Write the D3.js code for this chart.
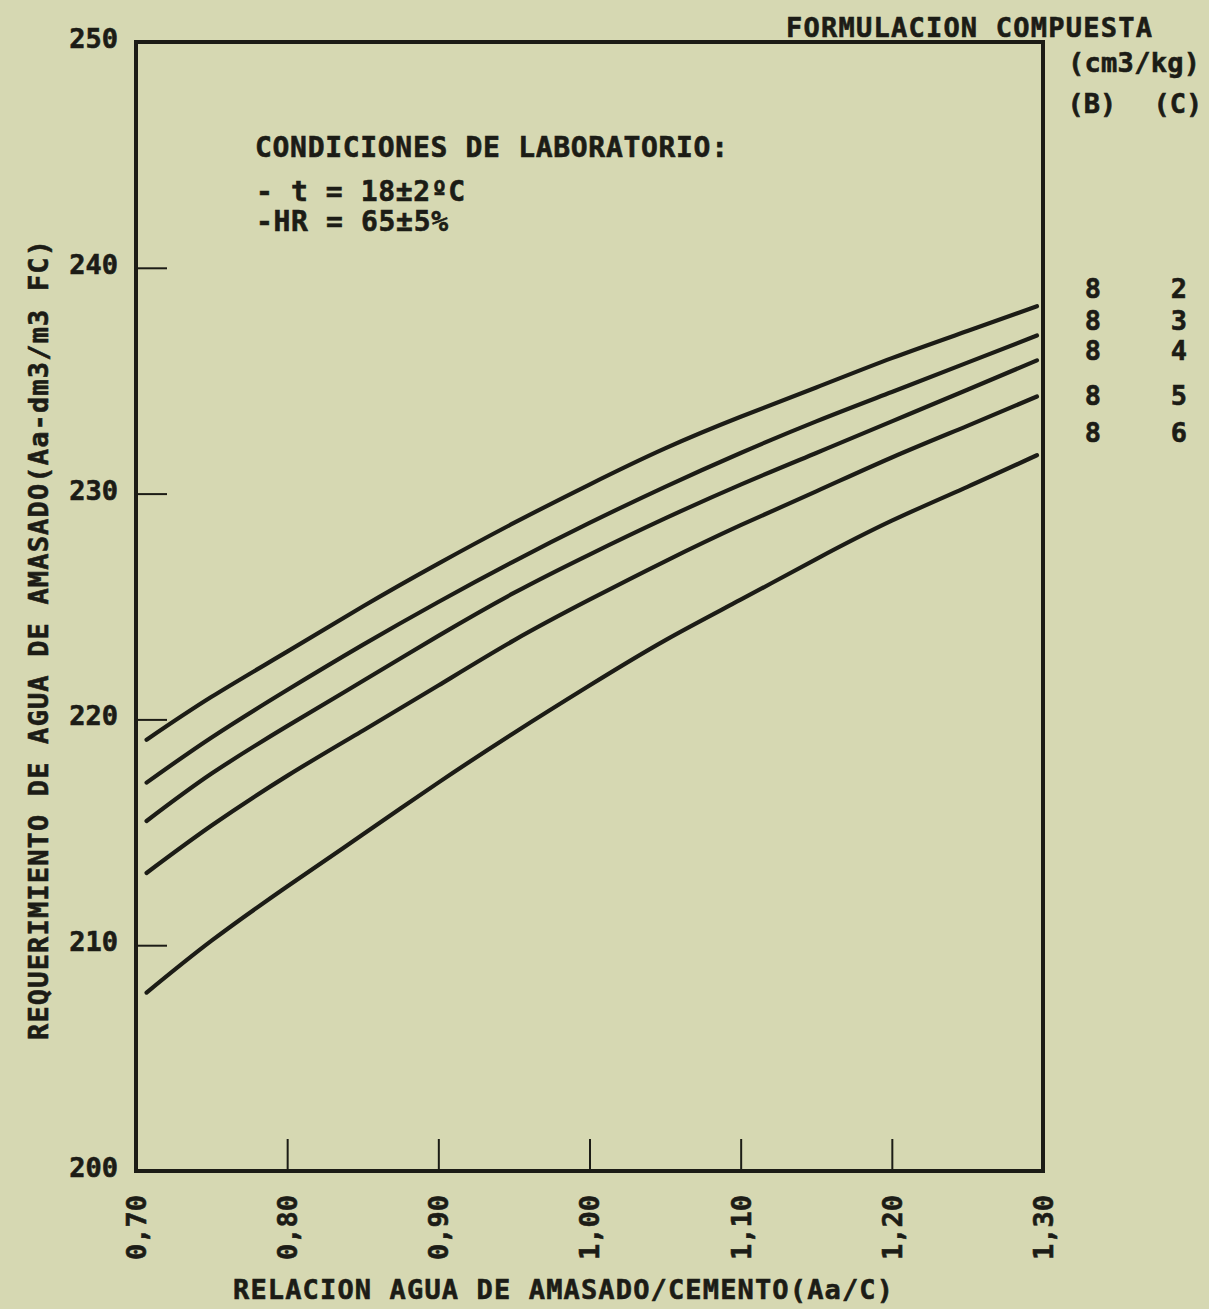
<!DOCTYPE html>
<html>
  <head>
    <meta charset="UTF-8">
    <title>Requerimiento de agua de amasado</title>
  <style type="text/css">
    body { margin: 0; background: #d6d8b2; }
    svg text {
      font-family: 'DejaVu Sans Mono', monospace;
      font-weight: bold;
      fill: #1c1c16;
      stroke: #1c1c16;
      stroke-width: 0.6px;
    }
  </style>
  </head>
  <body>
    <script src="https://cdn.jsdelivr.net/npm/d3@7"></script>
    <script>

      // Data
      var relacion = [0.707, 0.75, 0.80, 0.85, 0.90, 0.95, 1.00, 1.05, 1.10, 1.15, 1.20, 1.25, 1.296];

      var serie_8_2 = [219.1, 221.0, 223.0, 225.0, 226.9, 228.7, 230.4, 232.0, 233.4, 234.7, 236.0, 237.2, 238.3];
      var serie_8_3 = [217.2, 219.2, 221.3, 223.3, 225.2, 227.0, 228.7, 230.3, 231.8, 233.2, 234.5, 235.8, 237.0];
      var serie_8_4 = [215.5, 217.6, 219.7, 221.7, 223.7, 225.6, 227.3, 228.9, 230.4, 231.8, 233.2, 234.6, 235.9];
      var serie_8_5 = [213.2, 215.3, 217.5, 219.5, 221.5, 223.5, 225.3, 227.0, 228.6, 230.1, 231.6, 233.0, 234.3];
      var serie_8_6 = [207.9, 210.2, 212.6, 214.9, 217.2, 219.4, 221.5, 223.5, 225.3, 227.1, 228.8, 230.3, 231.7];

      var formulaB = ["8", "8", "8", "8", "8"];
      var formulaC = ["2", "3", "4", "5", "6"];

      var xTicks = [0.70, 0.80, 0.90, 1.00, 1.10, 1.20, 1.30];
      var yTicks = [200, 210, 220, 230, 240, 250];

      var series = [serie_8_2, serie_8_3, serie_8_4, serie_8_5, serie_8_6];

      // Layout
      var svgWidth = 1209,
          svgHeight = 1309;
      var ink = "#1c1c16";

      var svg = d3.select("body")
                  .append("svg")
                  .attr("width", svgWidth)
                  .attr("height", svgHeight);

      var xScale = d3.scaleLinear()
                     .domain([0.70, 1.30])
                     .range([136, 1043]);

      var yScale = d3.scaleLinear()
                     .domain([200, 250])
                     .range([1171, 42]);

      var comma = d => d3.format(".2f")(d).replace(".", ",");

      // Axes
      var yAxis = d3.axisLeft(yScale)
                    .tickValues(yTicks)
                    .tickSizeInner(-31)
                    .tickSizeOuter(0)
                    .tickPadding(18)
                    .tickFormat(d3.format("d"));

      var xAxis = d3.axisBottom(xScale)
                    .tickValues(xTicks)
                    .tickSizeInner(-32)
                    .tickSizeOuter(0)
                    .tickFormat(comma);

      var gY = svg.append("g")
                  .attr("transform", "translate(" + xScale(0.70) + ",0)")
                  .call(yAxis);
      gY.select(".domain").remove();
      gY.selectAll(".tick line").attr("stroke", ink).attr("stroke-width", 2);
      gY.selectAll(".tick text")
        .attr("font-size", 27)
        .attr("dy", "0.2em")
        .style("font-family", "'DejaVu Sans Mono', monospace");

      var gX = svg.append("g")
                  .attr("transform", "translate(0," + yScale(200) + ")")
                  .call(xAxis);
      gX.select(".domain").remove();
      gX.selectAll(".tick line").attr("stroke", ink).attr("stroke-width", 2);
      gX.selectAll(".tick text")
        .attr("font-size", 27)
        .attr("x", -24)
        .attr("y", 0)
        .attr("dy", "0.35em")
        .attr("transform", "rotate(-90)")
        .attr("text-anchor", "end")
        .style("font-family", "'DejaVu Sans Mono', monospace");

      // Frame
      svg.append("rect")
         .attr("x", xScale(0.70))
         .attr("y", yScale(250))
         .attr("width", xScale(1.30) - xScale(0.70))
         .attr("height", yScale(200) - yScale(250))
         .attr("fill", "none")
         .attr("stroke", ink)
         .attr("stroke-width", 4);

      // Curves
      var line = d3.line()
                   .x((d, i) => xScale(relacion[i]))
                   .y(d => yScale(d))
                   .curve(d3.curveNatural);

      svg.selectAll("path.curve")
         .data(series)
         .enter()
         .append("path")
         .attr("class", "curve")
         .attr("d", line)
         .attr("fill", "none")
         .attr("stroke", ink)
         .attr("stroke-width", 4.2)
         .attr("stroke-linecap", "round");

      // Legend
      var legendY = [298, 330, 360, 405, 442];

      svg.append("text")
         .attr("x", 786).attr("y", 37)
         .attr("font-size", 27)
         .attr("textLength", 366)
         .text("FORMULACION COMPUESTA");

      svg.append("text")
         .attr("x", 1068).attr("y", 72)
         .attr("font-size", 27)
         .attr("textLength", 132)
         .text("(cm3/kg)");

      svg.append("text")
         .attr("x", 1092).attr("y", 113)
         .attr("font-size", 27)
         .attr("text-anchor", "middle")
         .text("(B)");

      svg.append("text")
         .attr("x", 1178).attr("y", 113)
         .attr("font-size", 27)
         .attr("text-anchor", "middle")
         .text("(C)");

      svg.selectAll("text.legB")
         .data(formulaB)
         .enter()
         .append("text")
         .attr("class", "legB")
         .attr("x", 1093)
         .attr("y", (d, i) => legendY[i])
         .attr("font-size", 27)
         .attr("text-anchor", "middle")
         .text(d => d);

      svg.selectAll("text.legC")
         .data(formulaC)
         .enter()
         .append("text")
         .attr("class", "legC")
         .attr("x", 1179)
         .attr("y", (d, i) => legendY[i])
         .attr("font-size", 27)
         .attr("text-anchor", "middle")
         .text(d => d);

      // Laboratory conditions
      svg.append("text")
         .attr("x", 255).attr("y", 157)
         .attr("font-size", 28)
         .attr("textLength", 473)
         .text("CONDICIONES DE LABORATORIO:");

      svg.append("text")
         .attr("x", 256).attr("y", 201)
         .attr("font-size", 28)
         .attr("textLength", 209)
         .text("- t = 18±2ºC");

      svg.append("text")
         .attr("x", 256).attr("y", 231)
         .attr("font-size", 28)
         .attr("textLength", 192)
         .text("-HR = 65±5%");

      // Axis titles
      svg.append("text")
         .attr("x", 563).attr("y", 1299)
         .attr("font-size", 27)
         .attr("text-anchor", "middle")
         .attr("textLength", 660)
         .text("RELACION AGUA DE AMASADO/CEMENTO(Aa/C)");

      svg.append("text")
         .attr("transform", "translate(48,640) rotate(-90)")
         .attr("font-size", 27)
         .attr("text-anchor", "middle")
         .attr("textLength", 800)
         .text("REQUERIMIENTO DE AGUA DE AMASADO(Aa-dm3/m3 FC)");

    </script>
  </body>
</html>
